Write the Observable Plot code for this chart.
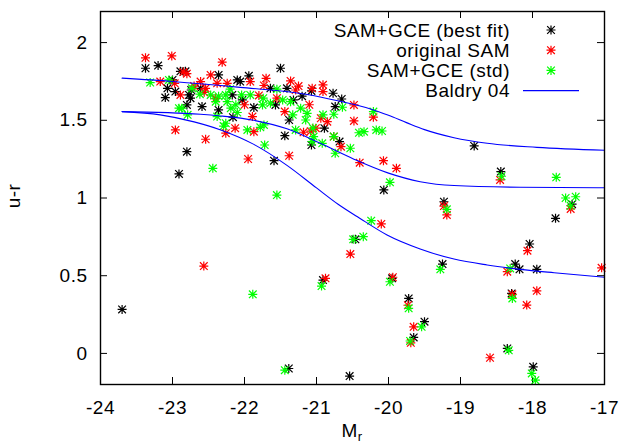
<!DOCTYPE html>
<html><head><meta charset="utf-8">
<script src="https://cdn.jsdelivr.net/npm/d3@7"></script>
<script src="https://cdn.jsdelivr.net/npm/@observablehq/plot@0.6"></script>
<style>body{margin:0;background:#fff} #chart{width:620px;height:445px}</style>
</head><body><div id="chart"></div>
<script>
const xTicks = [-24,-23,-22,-21,-20,-19,-18,-17];
const yTicks = [0,0.5,1,1.5,2];
const seriesNames = ["SAM+GCE (best fit)", "original SAM", "SAM+GCE (std)", "Baldry 04"];
const seriesColors = ["#000000", "#ff0000", "#00ff00", "#0000ff"];

const bestFit = [
[-23.70,0.283],[-23.375,1.835],[-23.20,1.852],[-22.89,1.815],[-22.82,1.815],[-23.07,1.706],[-23.10,1.646],[-22.96,1.685],[-22.77,1.663],[-22.75,1.642],[-22.80,1.599],[-22.74,1.695],[-23.00,1.760],[-22.36,1.792],[-22.61,1.706],[-22.59,1.588],[-22.36,1.567],[-22.17,1.663],[-22.10,1.760],[-22.80,1.298],[-22.91,1.155],[-22.16,1.520],[-21.94,1.786],[-22.06,1.749],[-21.50,1.835],[-21.41,1.706],[-21.64,1.706],[-21.07,1.689],[-20.77,1.674],[-20.65,1.637],[-20.74,1.588],[-20.89,1.449],[-21.44,1.401],[-21.57,1.599],[-21.87,1.582],[-22.03,1.631],[-21.32,1.631],[-21.38,1.502],[-21.07,1.341],[-20.68,1.363],[-21.59,1.240],[-20.065,1.052],[-21.385,-0.097],[-20.54,-0.146],[-20.91,0.472],[-20.46,0.734],[-19.95,0.483],[-19.72,0.354],[-19.50,0.204],[-19.65,0.103],[-19.25,0.575],[-19.23,0.976],[-18.81,1.335],[-18.44,1.170],[-17.45,0.960],[-17.68,0.869],[-18.04,0.704],[-18.24,0.575],[-18.18,0.541],[-17.94,0.541],[-18.29,0.386],[-18.35,0.032],[-17.99,-0.086],[-21.20,1.655]
];
const originalSAM = [
[-23.375,1.902],[-23.01,1.914],[-22.31,1.874],[-22.80,1.800],[-22.85,1.810],[-23.17,1.749],[-22.97,1.738],[-22.89,1.663],[-22.61,1.749],[-22.47,1.792],[-22.38,1.738],[-22.24,1.738],[-22.54,1.706],[-22.56,1.680],[-22.40,1.640],[-22.96,1.438],[-22.54,1.378],[-22.26,1.417],[-22.13,1.449],[-21.95,1.251],[-21.38,1.272],[-21.87,1.427],[-21.89,1.524],[-21.92,1.749],[-21.36,1.753],[-21.29,1.695],[-21.73,1.724],[-21.06,1.706],[-20.91,1.728],[-20.91,1.685],[-20.48,1.599],[-20.48,1.496],[-20.85,1.491],[-21.01,1.449],[-21.18,1.423],[-21.08,1.430],[-21.44,1.556],[-21.55,1.642],[-20.94,1.513],[-20.66,1.330],[-20.76,1.395],[-20.21,1.520],[-20.40,1.227],[-20.07,1.240],[-19.89,1.191],[-22.565,0.562],[-20.875,0.483],[-20.53,0.639],[-20.10,0.833],[-19.94,0.490],[-19.73,0.310],[-19.65,0.171],[-19.69,0.068],[-19.23,0.948],[-19.19,0.891],[-18.45,1.116],[-17.47,0.930],[-18.07,0.661],[-18.35,0.526],[-17.04,0.551],[-18.28,0.380],[-17.94,0.403],[-18.08,0.311],[-18.59,-0.028],[-22.00,1.600],[-21.80,1.660],[-21.10,1.600],[-22.70,1.720],[-21.70,1.770],[-21.25,1.720]
];
const stdSAM = [
[-23.31,1.743],[-23.05,1.760],[-22.73,1.706],[-22.87,1.578],[-22.91,1.578],[-22.79,1.535],[-22.62,1.668],[-22.47,1.663],[-22.40,1.620],[-22.36,1.655],[-22.26,1.663],[-22.24,1.620],[-22.19,1.578],[-22.12,1.600],[-22.38,1.524],[-22.26,1.481],[-22.44,1.191],[-21.96,1.438],[-21.78,1.455],[-21.73,1.470],[-22.29,1.463],[-22.04,1.663],[-21.92,1.663],[-21.74,1.642],[-21.64,1.610],[-21.75,1.599],[-21.47,1.631],[-21.36,1.620],[-21.22,1.578],[-21.13,1.545],[-21.33,1.535],[-21.15,1.502],[-21.29,1.438],[-21.04,1.395],[-21.06,1.363],[-20.92,1.352],[-20.91,1.535],[-20.76,1.539],[-20.64,1.584],[-20.53,1.320],[-20.74,1.288],[-20.76,1.395],[-20.41,1.420],[-20.34,1.427],[-20.17,1.438],[-20.09,1.431],[-20.21,1.556],[-21.72,1.341],[-21.55,1.019],[-21.885,0.380],[-21.44,-0.108],[-20.93,0.433],[-20.49,0.734],[-20.35,0.751],[-20.24,0.854],[-19.98,1.101],[-19.98,0.461],[-19.72,0.290],[-19.54,0.171],[-19.70,0.080],[-19.28,0.541],[-19.19,0.927],[-18.43,1.140],[-17.67,1.133],[-17.54,1.000],[-17.40,1.008],[-17.47,0.950],[-18.31,0.547],[-18.28,0.354],[-18.33,0.020],[-18.01,-0.129],[-17.96,-0.172],[-22.20,1.700],[-21.55,1.700],[-22.10,1.550],[-21.05,1.450]
];
const baldryUpper = [[-23.7,1.771],[-23.0,1.750],[-22.06,1.712],[-21.15,1.668],[-20.67,1.622],[-20.25,1.573],[-20.0,1.532],[-19.75,1.485],[-19.5,1.440],[-19.09,1.388],[-18.63,1.352],[-17.94,1.326],[-17.0,1.307]];
const baldryMiddle = [[-23.7,1.556],[-22.61,1.539],[-22.33,1.528],[-21.87,1.500],[-21.41,1.445],[-20.94,1.350],[-20.48,1.250],[-20.0,1.160],[-19.56,1.105],[-19.09,1.080],[-18.17,1.069],[-17.0,1.066]];
const baldryLower = [[-23.7,1.556],[-23.17,1.535],[-22.7,1.490],[-22.33,1.438],[-21.87,1.345],[-21.41,1.210],[-21.0,1.065],[-20.7,0.960],[-20.4,0.870],[-20.02,0.762],[-19.56,0.672],[-19.09,0.607],[-18.63,0.569],[-18.17,0.541],[-17.70,0.519],[-17.0,0.490]];

const star8 = {
  draw(ctx, size) {
    const r = Math.sqrt(size / Math.PI);
    const d = r * 0.85;
    ctx.moveTo(-r, 0); ctx.lineTo(r, 0);
    ctx.moveTo(0, -r); ctx.lineTo(0, r);
    ctx.moveTo(-d, -d); ctx.lineTo(d, d);
    ctx.moveTo(-d, d); ctx.lineTo(d, -d);
  }
};

const W = 620, H = 445, mL = 100, mR = 16, mT = 11, mB = 61;
const fw = W - mL - mR, fh = H - mT - mB, tk = 7;
const font = "'Liberation Sans', Arial, Helvetica, sans-serif";
const starR = 4.5;

const dots = (data, color) => Plot.dot(data, {x: d => d[0], y: d => d[1], symbol: star8, r: starR, stroke: color, strokeWidth: 1.2, fill: "none"});
const curve = (data) => Plot.line(data, {x: d => d[0], y: d => d[1], stroke: seriesColors[3], strokeWidth: 1.1, curve: "monotone-x"});

const chart = Plot.plot({
  width: W, height: H,
  marginLeft: mL, marginRight: mR, marginTop: mT, marginBottom: mB,
  style: {fontFamily: font, fontSize: "19px", background: "#fff", color: "#000", letterSpacing: "0.5px"},
  x: {domain: [-24, -17], ticks: xTicks},
  y: {domain: [-0.2, 2.2], ticks: yTicks},
  marks: [
    Plot.axisX({ticks: xTicks, tickSize: 0, tickPadding: 16, tickFormat: d => String(d), label: null, fontSize: 19}),
    Plot.axisY({ticks: yTicks, tickSize: 0, tickPadding: 13, tickFormat: d => String(d), label: null, fontSize: 19}),
    Plot.tickX(xTicks, {x: d => d, insetTop: fh - tk, stroke: "#000", strokeWidth: 1}),
    Plot.tickX(xTicks, {x: d => d, insetBottom: fh - tk, stroke: "#000", strokeWidth: 1}),
    Plot.tickY(yTicks, {y: d => d, insetRight: fw - tk, stroke: "#000", strokeWidth: 1}),
    Plot.tickY(yTicks, {y: d => d, insetLeft: fw - tk, stroke: "#000", strokeWidth: 1}),
    dots(bestFit, seriesColors[0]),
    dots(originalSAM, seriesColors[1]),
    dots(stdSAM, seriesColors[2]),
    curve(baldryUpper),
    curve(baldryMiddle),
    curve(baldryLower),
    Plot.frame({stroke: "#000", strokeWidth: 1.4})
  ]
});
document.getElementById("chart").appendChild(chart);

const svg = d3.select(chart);
// legend
const lg = svg.append("g").attr("font-family", font).attr("font-size", 19).style("letter-spacing", "0.5px");
seriesNames.forEach((name, i) => {
  const cy = 30 + i * 20.2;
  lg.append("text").attr("x", 510).attr("y", cy + 6.5).attr("text-anchor", "end").attr("fill", "#000").text(name);
  if (i < 3) {
    const p = d3.path(); star8.draw(p, starR * starR * Math.PI);
    lg.append("path").attr("d", p.toString()).attr("transform", `translate(551,${cy})`).attr("stroke", seriesColors[i]).attr("fill", "none").attr("stroke-width", 1.2);
  } else {
    lg.append("line").attr("x1", 523).attr("x2", 579).attr("y1", cy).attr("y2", cy).attr("stroke", seriesColors[3]).attr("stroke-width", 1.1);
  }
});
// axis labels
const xl = svg.append("text").attr("x", 352).attr("y", 437).attr("text-anchor", "middle").attr("font-family", font).attr("font-size", 19).attr("fill", "#000");
xl.append("tspan").text("M");
xl.append("tspan").attr("font-size", 13).attr("dy", 4).text("r");
svg.append("text").attr("transform", "translate(20,196) rotate(-90)").attr("text-anchor", "middle").attr("font-family", font).attr("font-size", 19).attr("fill", "#000").text("u-r");
</script></body></html>
